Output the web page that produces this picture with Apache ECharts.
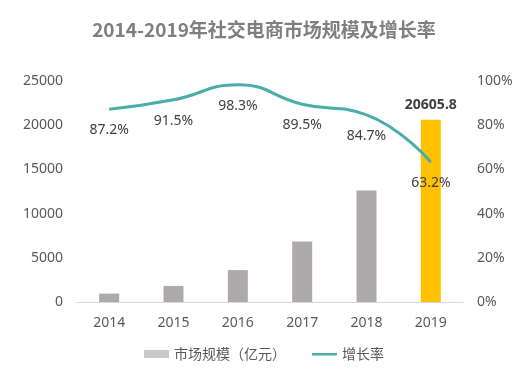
<!DOCTYPE html>
<html><head><meta charset="utf-8">
<script src="https://cdn.jsdelivr.net/npm/echarts@6/dist/echarts.min.js"></script>
<style>html,body{margin:0;padding:0;background:#fff}#c{width:528px;height:386px}</style>
</head><body><div id="c"></div>
<script>
var categories = ['2014','2015','2016','2017','2018','2019'];
var marketSize = [950, 1819, 3607, 6836, 12626, 20605.8];
var growthRate = [87.2, 91.5, 98.3, 89.5, 84.7, 63.2];
var leftTicks = [0, 5000, 10000, 15000, 20000, 25000];
var rightTicks = [0, 20, 40, 60, 80, 100];

var FONT = '"Noto Sans", "Noto Sans CJK SC", sans-serif';
var chart = echarts.init(document.getElementById('c'));
var barData = marketSize.map(function (v, i) {
  if (i === marketSize.length - 1) {
    return { value: v, itemStyle: { color: '#ffc000' },
      label: { show: true, position: 'top', fontWeight: 'bold', color: '#404040', fontSize: 14, fontFamily: FONT, distance: 8 } };
  }
  return v;
});
chart.setOption({
  animation: false,
  textStyle: { fontFamily: FONT },
  title: {
    text: '2014-2019年社交电商市场规模及增长率',
    left: 'center', top: 15,
    textStyle: { fontSize: 19, fontWeight: 'bold', color: '#7f7f7f', fontFamily: '"Noto Sans CJK SC", sans-serif' }
  },
  legend: {
    bottom: 20, left: 'center', itemGap: 26,
    itemWidth: 25, itemHeight: 8,
    textStyle: { fontSize: 14, color: '#595959', fontFamily: '"Noto Sans CJK SC", sans-serif' },
    data: [
      { name: '市场规模（亿元）', icon: 'rect', itemStyle: { color: '#c9c9c9' } },
      { name: '增长率', icon: 'path://M0,0 M0,3 L25,3 L25,5.5 L0,5.5 Z M25,8', itemStyle: { color: '#4aaea8' } }
    ]
  },
  grid: { left: 77, right: 65, top: 81, bottom: 84 },
  xAxis: {
    type: 'category', data: categories,
    axisLine: { lineStyle: { color: '#d9d9d9', width: 1 } },
    axisTick: { show: false },
    axisLabel: { color: '#595959', fontSize: 14, margin: 14 }
  },
  yAxis: [
    { type: 'value', min: leftTicks[0], max: leftTicks[leftTicks.length - 1], interval: 5000,
      splitLine: { show: false }, axisLine: { show: false }, axisTick: { show: false },
      axisLabel: { color: '#595959', fontSize: 14, margin: 14, formatter: function (v) { return String(v); } } },
    { type: 'value', min: rightTicks[0], max: rightTicks[rightTicks.length - 1], interval: 20,
      splitLine: { show: false }, axisLine: { show: false }, axisTick: { show: false },
      axisLabel: { color: '#595959', fontSize: 14, margin: 14, formatter: '{value}%' } }
  ],
  series: [
    { name: '市场规模（亿元）', type: 'bar', data: barData, barWidth: 20,
      itemStyle: { color: '#aeaaaa' } },
    { name: '增长率', type: 'line', yAxisIndex: 1, data: growthRate, smooth: true,
      showSymbol: true, symbol: 'circle', symbolSize: 0.1,
      lineStyle: { color: '#4aaea8', width: 3 }, itemStyle: { color: '#4aaea8' },
      label: { show: true, position: 'bottom', distance: 14, color: '#404040', fontSize: 14,
        formatter: function (p) { return p.value.toFixed(1) + '%'; } } }
  ]
});
</script></body></html>
